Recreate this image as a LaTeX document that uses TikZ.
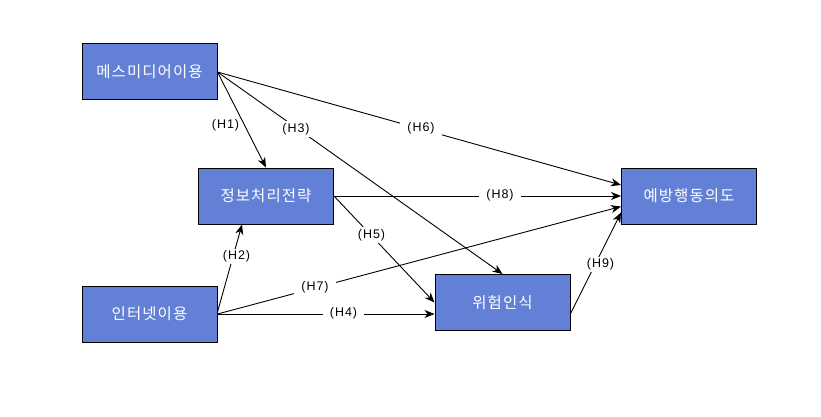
\documentclass[tikz,border=0pt]{standalone}
\usepackage{fontspec}
\setmainfont{Noto Sans CJK KR}
\newfontfamily\boxfont[LetterSpace=7]{Noto Sans CJK KR}
\newfontfamily\labfont[LetterSpace=8]{Liberation Sans}
\usetikzlibrary{arrows.meta}
\definecolor{boxblue}{RGB}{98,128,214}
\tikzset{
  var/.style={draw=black, line width=1pt, fill=boxblue, minimum width=135pt, minimum height=56pt, inner sep=0pt, text=white, font=\boxfont\fontsize{15.5}{17}\selectfont},
  hyp/.style={fill=white, inner xsep=7pt, inner ysep=2pt, font=\labfont\fontsize{12.5}{14}\selectfont},
  hypfree/.style={inner sep=1pt, font=\labfont\fontsize{12.5}{14}\selectfont},
  conn/.style={line width=0.9pt, -{Stealth[length=10pt,width=8pt,inset=3pt]}}
}
\begin{document}
\begin{tikzpicture}[x=1pt,y=-1pt]
\useasboundingbox (0,0) rectangle (821,417);
\node[var] (mm) at (149.5,72) {메스미디어이용};
\node[var] (jb) at (266,196) {정보처리전략};
\node[var] (ib) at (149.5,314) {인터넷이용};
\node[var] (wh) at (502.5,302.5) {위험인식};
\node[var] (ye) at (689,196) {예방행동의도};

% connectors
\draw[conn] (mm.east) -- (jb.north);
\draw[conn] (mm.east) -- (wh.north);
\draw[conn] (mm.east) -- ([yshift=11pt]ye.west);
\draw[conn] (jb.east) -- (ye.west);
\draw[conn] (jb.east) -- (wh.west);
\draw[conn] ([yshift=2pt]ib.east) -- ([xshift=-24pt]jb.south);
\draw[conn] (ib.east) -- ([yshift=-10.5pt]ye.west);
\draw[conn] (ib.east) -- ([yshift=-11.5pt]wh.west);
\draw[conn] ([yshift=-11pt]wh.east) -- ([yshift=-16.5pt]ye.west);

% labels
\node[hypfree] (h1) at (225.5,125) {(H1)};
\node[hyp] (h2) at (236.5,256.5) {(H2)};
\node[hyp] (h3) at (296,129) {(H3)};
\node[hyp] (h4) at (343.5,313.5) {(H4)};
\node[hyp] (h5) at (371.5,235) {(H5)};
\node[hyp] (h6) at (421,128) {(H6)};
\node[hyp] (h7) at (315,287) {(H7)};
\node[hyp] (h8) at (500,195.5) {(H8)};
\node[hyp] (h9) at (600.5,264.5) {(H9)};
\end{tikzpicture}
\end{document}
